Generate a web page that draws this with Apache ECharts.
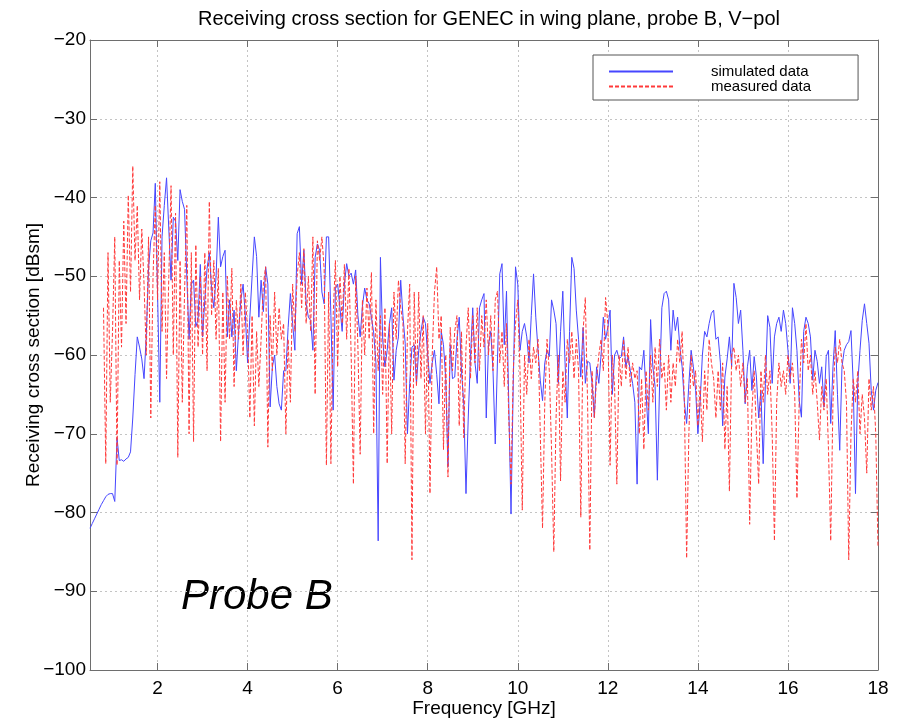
<!DOCTYPE html>
<html>
<head>
<meta charset="utf-8">
<script src="https://cdn.jsdelivr.net/npm/echarts@6/dist/echarts.min.js"></script>
<style>
  html, body { margin: 0; padding: 0; background: #ffffff; }
  #chart { width: 898px; height: 719px; }
</style>
</head>
<body>
<div id="chart"></div>
<script>
// Samples are 0.05 GHz apart.
const FREQ_STEP = 0.05;

// Simulated receiving cross section [dBsm], from 0.5 GHz
const simStart = 0.5;
const simDb = [
  -82.0,-81.4,-80.8,-80.2,-79.6,-79.0,-78.5,-78.0,-77.7,-77.6,-77.6,-78.6,-70.5,-73.4,-73.3,-73.5,-73.2,-73.0,-72.3,-68.0,
  -62.5,-57.7,-59.0,-60.5,-63.0,-57.5,-49.0,-45.5,-44.5,-38.2,-52.0,-66.0,-45.0,-41.0,-37.5,-44.0,-50.5,-42.5,-43.0,-48.0,
  -39.0,-40.5,-41.5,-50.0,-58.0,-51.0,-50.5,-56.4,-55.5,-48.5,-57.7,-53.0,-49.0,-47.0,-51.5,-54.0,-50.0,-42.5,-48.8,-47.5,
  -46.7,-57.7,-53.0,-57.7,-54.3,-62.0,-57.0,-53.0,-51.0,-55.0,-61.0,-55.2,-50.0,-45.0,-47.5,-55.2,-50.5,-54.5,-48.8,-51.0,
  -66.6,-61.5,-60.0,-64.0,-66.2,-67.0,-62.0,-62.0,-56.5,-52.2,-56.0,-59.4,-44.6,-43.7,-51.0,-46.7,-53.5,-55.2,-55.6,-59.4,
  -47.6,-45.9,-46.7,-52.0,-53.5,-45.0,-45.0,-55.0,-67.0,-51.5,-51.0,-54.0,-57.0,-51.0,-48.4,-50.0,-49.6,-51.0,-49.2,-55.0,
  -57.7,-53.8,-51.5,-53.0,-53.5,-55.2,-57.2,-61.0,-83.6,-47.6,-58.0,-61.5,-59.4,-56.0,-54.0,-63.2,-59.4,-57.7,-50.5,-55.0,
  -58.5,-70.0,-63.6,-59.0,-58.7,-63.6,-59.4,-57.0,-55.2,-56.0,-60.0,-63.6,-61.0,-59.4,-62.5,-66.2,-57.0,-58.7,-63.0,-74.2,
  -58.7,-63.0,-62.8,-58.0,-55.2,-62.0,-66.2,-77.6,-68.0,-60.2,-54.0,-61.0,-63.6,-54.0,-53.0,-52.2,-68.0,-58.7,-57.0,-62.0,
  -71.3,-60.5,-49.7,-48.4,-58.7,-51.9,-66.2,-80.2,-63.6,-48.8,-51.0,-59.4,-57.0,-56.0,-57.7,-61.0,-55.0,-49.7,-55.2,-59.4,
  -63.2,-65.8,-61.0,-59.4,-60.2,-53.0,-54.3,-56.0,-63.6,-57.0,-51.9,-61.0,-68.0,-57.0,-47.6,-49.0,-54.3,-58.0,-62.8,-56.5,
  -63.6,-60.8,-61.0,-63.6,-67.9,-61.5,-63.6,-60.0,-55.2,-58.0,-56.5,-54.3,-65.0,-60.0,-59.4,-60.5,-60.2,-57.7,-61.5,-60.2,
  -62.0,-63.6,-66.0,-76.4,-61.5,-61.9,-59.4,-65.0,-70.0,-55.5,-61.5,-64.0,-75.9,-63.6,-54.0,-52.2,-51.9,-53.0,-59.4,-54.3,
  -56.9,-55.2,-59.0,-61.5,-66.0,-68.7,-63.6,-59.4,-61.5,-64.5,-70.0,-66.0,-60.0,-57.0,-57.7,-56.0,-54.7,-54.3,-58.0,-57.7,
  -61.0,-69.0,-62.8,-60.5,-57.7,-61.5,-50.9,-52.7,-56.0,-54.3,-59.4,-66.2,-61.5,-59.4,-64.5,-60.2,-62.8,-68.0,-64.5,-73.8,
  -63.6,-55.0,-56.5,-63.6,-57.7,-56.0,-55.2,-57.0,-54.3,-56.0,-59.4,-63.6,-54.0,-56.0,-59.4,-65.8,-67.9,-57.0,-55.2,-56.0,
  -57.7,-63.2,-59.4,-60.8,-63.6,-61.5,-66.6,-60.2,-59.4,-68.7,-61.5,-56.9,-65.0,-72.1,-61.5,-59.4,-58.7,-58.3,-56.9,-63.6,
  -77.6,-63.6,-59.4,-55.6,-53.5,-56.0,-58.5,-64.5,-67.0,-64.5,-63.5
];

// Measured receiving cross section [dBsm], from 0.8 GHz
const measStart = 0.8;
const measDb = [
  -54.0,-73.8,-47.0,-66.0,-57.0,-45.0,-74.0,-48.0,-59.0,-43.0,-56.0,-39.7,-52.0,-36.0,-48.0,-41.0,-53.0,-44.0,-51.0,-60.0,
  -45.0,-68.0,-50.0,-41.0,-53.0,-38.0,-57.0,-47.0,-63.0,-50.0,-38.5,-60.0,-42.0,-73.0,-48.0,-66.0,-52.0,-41.0,-70.0,-47.0,
  -71.0,-46.0,-59.0,-50.0,-60.0,-47.0,-62.0,-40.5,-55.0,-48.0,-58.0,-49.0,-71.0,-52.0,-66.0,-50.0,-58.0,-49.0,-64.0,-53.0,
  -58.0,-51.0,-60.0,-52.0,-57.0,-68.0,-55.0,-69.0,-57.0,-64.0,-58.0,-51.0,-48.8,-71.7,-55.0,-62.0,-52.0,-60.0,-54.0,-58.0,
  -56.0,-70.0,-58.0,-66.0,-51.0,-57.0,-50.0,-47.0,-54.0,-46.5,-56.0,-50.0,-57.0,-45.0,-65.0,-45.5,-48.0,-45.0,-49.0,-74.0,
  -52.0,-73.8,-55.0,-48.0,-61.5,-50.0,-56.0,-48.5,-58.0,-49.0,-60.0,-76.4,-50.0,-59.0,-72.6,-53.0,-60.0,-51.5,-58.0,-49.5,
  -70.0,-53.0,-62.0,-55.0,-65.0,-54.0,-73.8,-56.0,-70.0,-52.0,-58.0,-50.5,-54.0,-56.0,-73.8,-57.0,-51.0,-86.0,-52.0,-64.0,
  -52.0,-63.0,-55.0,-70.0,-56.0,-77.6,-60.0,-52.0,-48.8,-58.0,-55.0,-72.0,-60.0,-75.5,-56.5,-62.0,-57.0,-55.0,-69.0,-57.0,
  -70.5,-59.0,-54.0,-63.0,-55.0,-61.0,-54.0,-62.0,-55.0,-59.0,-53.0,-60.0,-55.0,-62.0,-53.0,-51.9,-61.0,-57.0,-64.0,-56.0,
  -68.0,-76.4,-62.0,-56.0,-53.0,-62.0,-79.7,-60.0,-65.0,-58.0,-63.0,-59.0,-61.0,-58.0,-70.0,-82.0,-66.0,-58.0,-62.0,-72.0,
  -85.0,-68.0,-60.0,-76.0,-62.0,-66.0,-58.0,-61.0,-57.0,-63.0,-58.0,-62.0,-80.6,-57.0,-52.7,-66.0,-84.8,-62.0,-68.0,-63.0,
  -60.0,-58.0,-62.0,-52.7,-56.0,-74.0,-60.0,-64.0,-76.4,-60.0,-64.0,-58.0,-63.0,-59.0,-64.0,-61.0,-63.0,-62.0,-70.0,-63.0,
  -72.0,-62.0,-67.0,-60.0,-66.0,-59.0,-64.0,-58.0,-63.0,-61.0,-67.0,-60.0,-66.0,-61.0,-64.0,-58.0,-61.0,-57.0,-66.0,-85.8,
  -70.0,-60.0,-64.0,-62.0,-69.0,-64.0,-71.0,-62.0,-67.0,-58.0,-61.0,-63.0,-68.0,-62.0,-67.0,-61.0,-72.0,-64.0,-77.3,-60.0,
  -59.0,-62.0,-60.0,-64.0,-61.0,-66.0,-63.0,-81.5,-67.0,-62.0,-70.0,-76.4,-62.0,-66.0,-60.0,-65.0,-62.0,-70.0,-83.6,-66.0,
  -61.0,-64.0,-62.0,-65.0,-60.0,-63.0,-61.0,-65.0,-78.2,-66.0,-58.0,-61.0,-56.0,-62.0,-60.0,-65.0,-62.0,-66.0,-70.8,-64.0,
  -67.0,-63.0,-72.0,-83.6,-66.0,-59.0,-61.0,-58.0,-61.0,-62.0,-66.0,-86.0,-70.0,-63.0,-66.0,-62.0,-70.0,-65.0,-68.0,-75.0,
  -63.0,-67.0,-64.0,-70.0,-84.4
];

const seriesNames = ['simulated data', 'measured data'];
const titleText = 'Receiving cross section for GENEC in wing plane, probe B, V\u2212pol';
const xName = 'Frequency [GHz]';
const yName = 'Receiving cross section [dBsm]';
const noteText = 'Probe B';

const xRange = [0.5, 18];
const yRange = [-100, -20];

function toPairs(start, values) {
  return values.map((v, i) => [Math.round((start + i * FREQ_STEP) * 100) / 100, v]);
}

// Tick labels use a true minus sign.
const minusFmt = (v) => String(v).replace('-', '\u2212');

const FONT = 'Liberation Sans, Arial, Helvetica, sans-serif';
const axisColor = '#6e6e6e';
const gridStyle = { color: '#c4c4c4', type: [2, 3], width: 1 };
const simColor = '#4646ff';
const measColor = '#ff3a3a';

const chart = echarts.init(document.getElementById('chart'), null, { renderer: 'canvas' });

const frameX = (pos) => ({
  type: 'value', position: pos, min: xRange[0], max: xRange[1], splitNumber: 9,
  axisLine: { show: true, onZero: false, lineStyle: { color: axisColor, width: 1 } },
  axisTick: { show: true, inside: true, length: 7, lineStyle: { color: axisColor } },
  axisLabel: pos === 'bottom'
    ? { show: true, showMinLabel: false, color: '#000', fontFamily: FONT, fontSize: 19, margin: 9, formatter: minusFmt }
    : { show: false },
  splitLine: { show: pos === 'bottom', lineStyle: gridStyle },
  name: pos === 'bottom' ? xName : '',
  nameLocation: 'middle', nameGap: 29, nameMoveOverlap: false,
  nameTextStyle: { color: '#000', fontFamily: FONT, fontSize: 19 }
});

const frameY = (pos) => ({
  type: 'value', position: pos, min: yRange[0], max: yRange[1], interval: 10,
  axisLine: { show: true, onZero: false, lineStyle: { color: axisColor, width: 1 } },
  axisTick: { show: true, inside: true, length: 7, lineStyle: { color: axisColor } },
  axisLabel: pos === 'left'
    ? { show: true, color: '#000', fontFamily: FONT, fontSize: 19, margin: 4, formatter: minusFmt }
    : { show: false },
  splitLine: { show: pos === 'left', lineStyle: gridStyle },
  name: pos === 'left' ? yName : '',
  nameLocation: 'middle', nameGap: 47, nameRotate: 90, nameMoveOverlap: false,
  nameTextStyle: { color: '#000', fontFamily: FONT, fontSize: 19 }
});

chart.setOption({
  animation: false,
  backgroundColor: '#ffffff',
  title: {
    text: titleText, left: 484, top: 4, textAlign: 'center',
    textStyle: { color: '#000', fontFamily: FONT, fontSize: 20, fontWeight: 'normal' }
  },
  grid: { left: 90, right: 20, top: 40, bottom: 49, containLabel: false, outerBoundsMode: 'none' },
  xAxis: [frameX('bottom'), frameX('top')],
  yAxis: [frameY('left'), frameY('right')],
  legend: {
    orient: 'vertical', left: 593, top: 55,
    padding: [9, 47, 6, 15], itemGap: 0, itemWidth: 64, itemHeight: 13,
    borderColor: '#555', borderWidth: 1, backgroundColor: '#fff',
    itemStyle: { opacity: 0 },
    textStyle: { color: '#000', fontFamily: FONT, fontSize: 15, lineHeight: 13, padding: [0, 0, 0, 33] },
    data: seriesNames
  },
  graphic: [{
    type: 'text', left: 181, top: 576,
    style: { text: noteText, fill: '#000', font: 'italic 42px ' + FONT }
  }],
  series: [
    {
      name: seriesNames[0], type: 'line', xAxisIndex: 0, yAxisIndex: 0,
      data: toPairs(simStart, simDb), symbol: 'none', smooth: false,
      lineStyle: { color: simColor, width: 1 }, itemStyle: { color: simColor }, z: 2
    },
    {
      name: seriesNames[1], type: 'line', xAxisIndex: 0, yAxisIndex: 0,
      data: toPairs(measStart, measDb), symbol: 'none', smooth: false,
      lineStyle: { color: measColor, width: 1, type: [4, 2] }, itemStyle: { color: measColor }, z: 3
    }
  ]
});
</script>
</body>
</html>
